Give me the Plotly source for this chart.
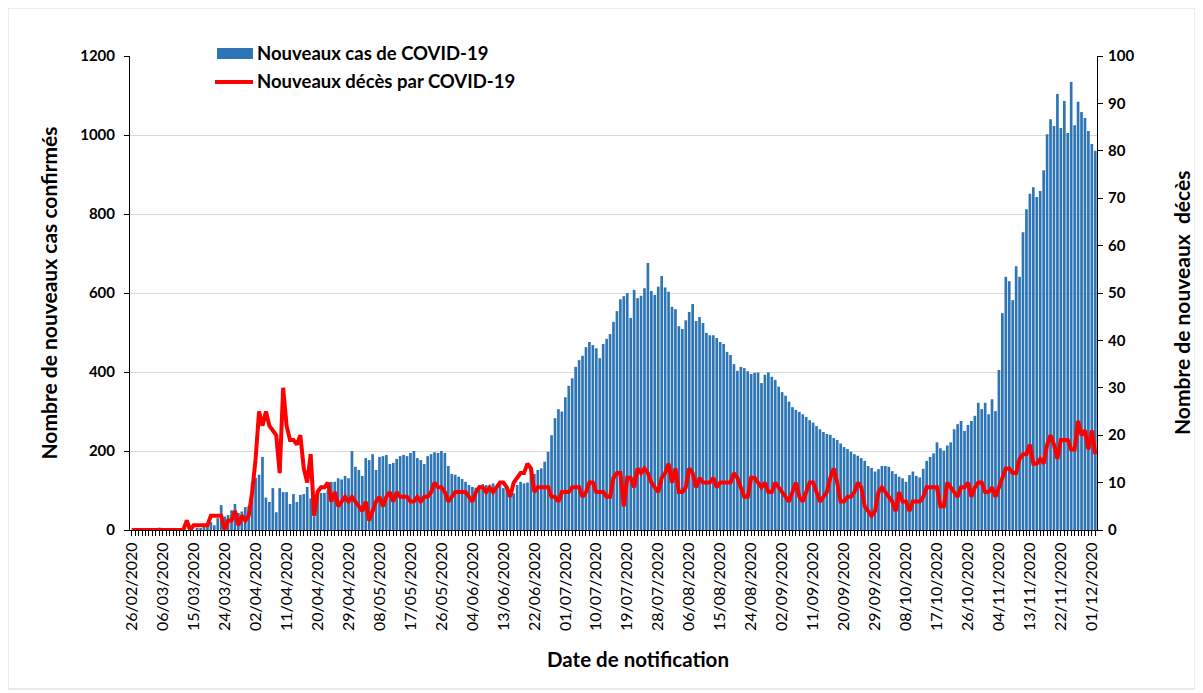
import pandas as pd
import plotly.graph_objects as go

start_date = "2020-02-26"

cases = [
    0, 0, 0, 0, 0, 0, 0, 0, 6, 0, 0, 0, 0, 1, 0, 0, 0, 2, 0, 3, 4,
    8, 15, 20, 12, 30, 63, 34, 38, 50, 66, 43, 47, 58, 60,
    120, 132, 140, 185, 82, 71, 106, 45, 106, 96, 96, 66, 91, 71, 89, 91, 109, 80, 35, 101,
    94, 94, 100, 122, 122, 131, 128, 137, 131, 200, 160, 152, 137, 182, 177, 192, 152, 185,
    187, 190, 167, 170, 180, 187, 190, 187, 195, 200, 182, 177, 167, 187, 192, 197, 195, 200,
    195, 162, 142, 140, 135, 129, 122, 114, 109, 107, 114, 116, 114, 111, 118, 109, 114,
    106, 106, 84, 93, 114, 122, 118, 120, 144, 142, 152, 156, 173, 198, 240, 283, 306, 300,
    336, 365, 384, 413, 430, 441, 463, 476, 468, 460, 435, 471, 484, 496, 527, 554, 584, 592, 600, 537,
    608, 587, 593, 612, 676, 605, 595, 616, 643, 614, 603, 565, 559, 516, 509, 531, 552, 572,
    529, 539, 524, 499, 493, 493, 486, 476, 471, 451, 443, 420, 403, 413, 410, 402, 395, 398,
    399, 372, 393, 399, 388, 380, 363, 349, 340, 325, 311, 304, 299, 293, 286, 278, 272, 263,
    255, 248, 243, 241, 233, 228, 219, 210, 205, 198, 192, 188, 182, 175, 162, 157, 148, 154, 162,
    162, 160, 149, 142, 135, 131, 122, 139, 148, 137, 133, 155, 175, 185, 194, 222, 207, 201,
    214, 222, 255, 268, 276, 251, 266, 276, 289, 322, 306, 322, 293, 331, 301, 405,
    549, 641, 630, 582, 668, 641, 754, 812, 851, 868, 843, 858, 911, 1002, 1040, 1023, 1104, 1018,
    1086, 1005, 1134, 1025, 1084, 1058, 1043, 1010, 977, 960,
]

deaths = [
    0, 0, 0, 0, 0, 0, 0, 0, 0, 0, 0, 0, 0, 0, 0, 0,
    2, 0, 1, 1, 1, 1, 1, 3, 3, 3, 3, 0, 2, 2, 4, 1, 3, 2, 3,
    8, 15, 25, 22, 25, 22, 21, 20, 12, 30, 22, 19, 19, 18, 20, 13, 10, 16, 3, 8,
    9, 9, 10, 6, 8, 5, 6, 7, 6, 7, 6, 5, 4, 6, 2, 4, 6, 7,
    5, 7, 8, 6, 8, 7, 7, 7, 6, 6, 7, 6, 7, 7, 8, 10, 9, 9, 8, 6, 7, 8, 8, 8, 8, 7, 6, 8,
    9, 9, 8, 9, 8, 9, 10,
    10, 9, 7, 10, 11, 12, 12, 14, 13, 8, 9, 9, 9, 9, 7, 7, 6, 8, 8, 8, 9, 9, 9, 7, 8, 10,
    10, 8, 8, 8, 7, 7, 11, 12, 12, 5, 11, 11,
    9, 13, 12, 13, 12, 10, 9, 8, 11, 12, 14, 10, 13, 8, 8, 9, 13, 12, 9, 11, 10, 10, 10, 11,
    9, 10, 10, 10, 10, 12, 11, 9, 7, 7, 11, 11,
    10, 9, 10, 8, 8, 10, 9, 8, 7, 6, 8, 10, 7, 6, 8, 10, 10, 8, 6, 7, 8, 11, 13, 10, 6, 6,
    7, 7, 8, 10, 9, 5, 4, 3, 4, 8, 9,
    8, 7, 6, 4, 8, 6, 6, 4, 6, 6, 6, 7, 9, 9, 9, 9, 5, 5, 10, 9, 8, 7, 9, 9, 10, 7, 9, 10,
    10, 8, 8, 9, 7, 9,
    11, 13, 13, 12, 12, 15, 16, 16, 18, 14, 14, 15, 14, 18, 20, 18, 15, 19, 19, 19, 17, 17,
    23, 20, 21, 17, 21, 16,
]

series_names = ["Nouveaux cas de COVID-19", "Nouveaux décès par COVID-19"]
y_title_left = "Nombre de nouveaux cas confirmés"
y_title_right = "Nombre de nouveaux  décès"
x_title = "Date de notification"

dates = pd.date_range(start_date, periods=len(cases), freq="D")
tick_dates = list(dates[::9])
tick_labels = [d.strftime("%d/%m/%Y") for d in tick_dates]

BLUE = "#2E75B6"
RED = "#FF0000"
FONT = "Lato"

fig = go.Figure()
fig.add_trace(go.Bar(x=dates, y=cases, name=series_names[0], marker=dict(color=BLUE, line=dict(width=0)),
                     yaxis="y", showlegend=False))
fig.add_trace(go.Scatter(x=dates, y=deaths, name=series_names[1], mode="lines",
                         line=dict(color=RED, width=4), yaxis="y2", showlegend=False))

half_day = pd.Timedelta(hours=12)

# page body adds an 8px offset; plot area on screen: x 130..1097, y 56..530
OFF = 8
PL, PR, PT, PB = 130, 1097, 56, 530
pw, ph = PR - PL, PB - PT
W, H = 1203 - OFF, 693 - OFF
L, T = PL - OFF, PT - OFF
R, B = W - L - pw, H - T - ph


def px(x):
    return (x - PL) / pw


def py(y):
    return (PB - y) / ph


shapes = [
    dict(type="rect", xref="paper", yref="paper", x0=px(8), x1=px(1195), y0=py(689), y1=py(8),
         line=dict(color="#d9d9d9", width=1), fillcolor="rgba(0,0,0,0)", layer="below"),
    dict(type="rect", xref="paper", yref="paper", x0=px(217), x1=px(253), y0=py(59), y1=py(48),
         line=dict(width=0), fillcolor=BLUE),
    dict(type="line", xref="paper", yref="paper", x0=px(215), x1=px(253), y0=py(82), y1=py(82),
         line=dict(color=RED, width=4)),
]
annotations = [
    dict(xref="paper", yref="paper", x=px(255), y=py(53), text="<b>%s</b>" % series_names[0],
         showarrow=False, xanchor="left", yanchor="middle", font=dict(family=FONT, size=18.5, color="#000")),
    dict(xref="paper", yref="paper", x=px(255), y=py(81), text="<b>%s</b>" % series_names[1],
         showarrow=False, xanchor="left", yanchor="middle", font=dict(family=FONT, size=18.5, color="#000")),
    dict(xref="paper", yref="paper", x=px(638), y=py(659), text="<b>%s</b>" % x_title,
         showarrow=False, xanchor="center", yanchor="middle", font=dict(family=FONT, size=20.5, color="#000")),
    dict(xref="paper", yref="paper", x=px(1181), y=py(303), text="<b>%s</b>" % y_title_right,
         textangle=-90, showarrow=False, xanchor="center", yanchor="middle",
         font=dict(family=FONT, size=21, color="#000")),
]

fig.update_layout(
    width=W, height=H, autosize=False,
    margin=dict(l=L, r=R, t=T, b=B, pad=0),
    paper_bgcolor="white", plot_bgcolor="white",
    bargap=0.22,
    font=dict(family=FONT, color="#000"),
    shapes=shapes, annotations=annotations,
    xaxis=dict(
        range=[dates[0] - half_day, dates[-1] + half_day],
        tickmode="array", tickvals=tick_dates, ticktext=tick_labels, tickangle=-90,
        tickfont=dict(family=FONT, size=16, color="#000"),
        ticks="outside", ticklen=5, tickcolor="#000", tickwidth=1,
        minor=dict(ticks="outside", ticklen=5, tickcolor="#000", tickwidth=1,
                   dtick=86400000, tick0=dates[0], showgrid=False),
        showline=True, linecolor="#000", linewidth=1, showgrid=False, zeroline=False,
    ),
    yaxis=dict(
        range=[0, 1200], dtick=200, tick0=0,
        tickfont=dict(family=FONT, size=15, color="#000", weight="bold"),
        ticks="outside", ticklen=5, tickcolor="#000", ticklabelstandoff=6,
        showline=True, linecolor="#000", linewidth=1,
        showgrid=True, gridcolor="#d9d9d9", gridwidth=1, zeroline=False,
        title=dict(text="<b>%s</b>" % y_title_left, font=dict(family=FONT, size=21, color="#000"), standoff=16),
    ),
    yaxis2=dict(
        range=[0, 100], dtick=10, tick0=0, overlaying="y", side="right",
        tickfont=dict(family=FONT, size=15, color="#000", weight="bold"),
        ticks="outside", ticklen=5, tickcolor="#000", ticklabelstandoff=2,
        showline=True, linecolor="#000", linewidth=1,
        showgrid=False, zeroline=False,
    ),
)

fig.write_html("out.html")
